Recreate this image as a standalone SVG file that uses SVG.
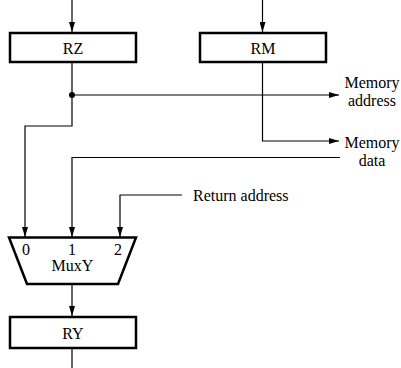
<svg xmlns="http://www.w3.org/2000/svg" width="401" height="368" viewBox="0 0 401 368">
  <style>
    .reg { fill: #fff; stroke: #000; stroke-width: 2.5; }
    .wire { fill: none; stroke: #000; stroke-width: 1.2; }
    text { font-family: "Liberation Serif", "Times New Roman", serif; font-size: 16px; fill: #000; }
    .c { text-anchor: middle; }
  </style>
  <defs>
    <marker id="arrow" viewBox="0 0 10 6" refX="10" refY="3" markerWidth="10" markerHeight="6" markerUnits="userSpaceOnUse" orient="auto">
      <path d="M0,0 L10,3 L0,6 Z" fill="#000"/>
    </marker>
  </defs>

  <g id="connectors">
    <!-- inputs to RZ and RM -->
    <line class="wire" x1="72" y1="0" x2="72" y2="32" marker-end="url(#arrow)"/>
    <line class="wire" x1="262.5" y1="0" x2="262.5" y2="32" marker-end="url(#arrow)"/>
    <!-- RZ output: memory address and mux input 0 -->
    <path class="wire" d="M72,63 V126 H25 V237" marker-end="url(#arrow)"/>
    <line class="wire" x1="72" y1="95" x2="339" y2="95" marker-end="url(#arrow)"/>
    <circle cx="72" cy="95" r="3"/>
    <!-- RM output: memory data -->
    <path class="wire" d="M262.5,63 V141 H339" marker-end="url(#arrow)"/>
    <!-- memory data in to mux input 1 -->
    <path class="wire" d="M340,157.5 H72 V237" marker-end="url(#arrow)"/>
    <!-- return address to mux input 2 -->
    <path class="wire" d="M182,195 H120 V237" marker-end="url(#arrow)"/>
    <!-- mux to RY, RY out -->
    <line class="wire" x1="72" y1="284" x2="72" y2="316" marker-end="url(#arrow)"/>
    <line class="wire" x1="72" y1="348" x2="72" y2="368"/>
  </g>

  <g id="RZ">
    <rect class="reg" x="10" y="33" width="126" height="29"/>
    <text class="c" x="73" y="53.5">RZ</text>
  </g>

  <g id="RM">
    <rect class="reg" x="200" y="33" width="126" height="29"/>
    <text class="c" x="263" y="53.5">RM</text>
  </g>

  <g id="MuxY">
    <path class="reg" d="M9,237.5 H136 L118,284 H27 Z"/>
    <text class="c" x="26" y="254.5">0</text>
    <text class="c" x="72" y="254.5">1</text>
    <text class="c" x="118" y="254.5">2</text>
    <text class="c" x="72.5" y="270.5">MuxY</text>
  </g>

  <g id="RY">
    <rect class="reg" x="10" y="317" width="126" height="31"/>
    <text class="c" x="73" y="338.5">RY</text>
  </g>

  <g id="labels">
    <text class="c" x="372" y="88">Memory</text>
    <text class="c" x="372" y="105.5">address</text>
    <text class="c" x="372" y="147.5">Memory</text>
    <text class="c" x="372" y="165.5">data</text>
    <text x="193" y="200.5">Return address</text>
  </g>
</svg>
